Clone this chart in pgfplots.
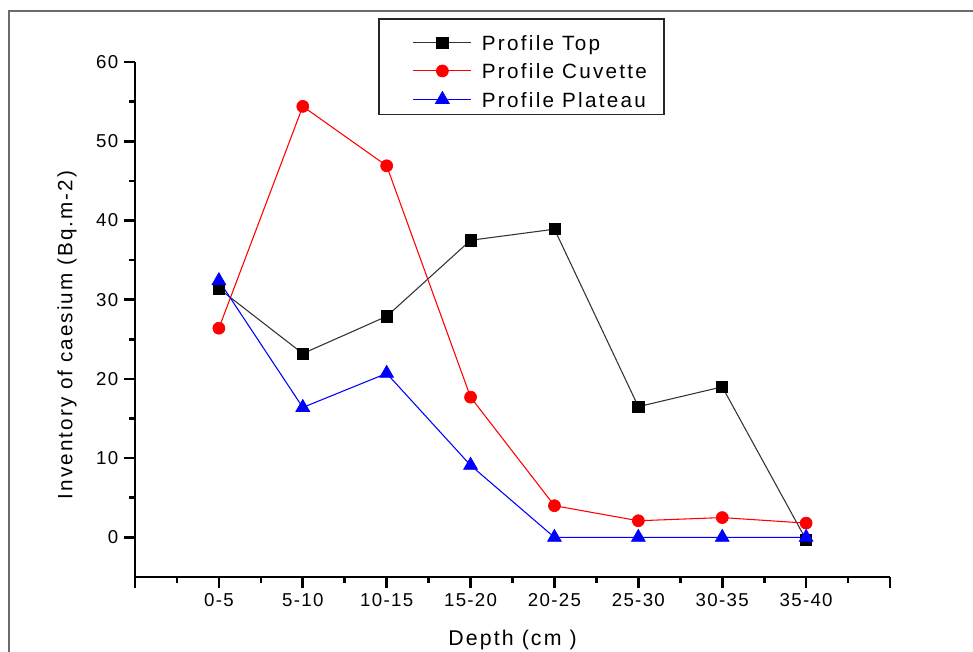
\documentclass[border=0pt]{standalone}
\usepackage{pgfplots}
\pgfplotsset{compat=1.18}
\usepackage{fontspec}
\setmainfont{Liberation Sans}
\newfontfamily\tickfont[LetterSpace=7]{Liberation Sans}
\newfontfamily\legfont[LetterSpace=11]{Liberation Sans}
\newfontfamily\labfont[LetterSpace=10]{Liberation Sans}
\begin{document}
\begin{tikzpicture}
\useasboundingbox (0,0) rectangle (729.75pt,488.25pt);
\fill[white] (0,0) rectangle (729.75pt,488.25pt);
\draw[line width=2.2pt, color=black!58] (6.75pt,-5pt) -- (6.75pt,480pt) -- (740pt,480pt);
\begin{axis}[
  at={(101.25pt,55.5pt)}, anchor=south west,
  scale only axis, width=566.25pt, height=386.25pt,
  xmin=-1, xmax=8, ymin=-5, ymax=60,
  axis x line*=bottom, axis y line*=left,
  axis line style={line width=2pt, -},
  xtick={-1,0,...,8},
  xticklabels={,0-5,5-10,10-15,15-20,20-25,25-30,30-35,35-40,},
  ytick={0,10,...,60},
  minor x tick num=1, minor y tick num=1,
  tick align=outside,
  major tick length=8pt, minor tick length=4.5pt,
  major tick style={line width=2pt, black},
  minor tick style={line width=2pt, black},
  /pgf/number format/assume math mode=true,
  tick label style={font=\tickfont\fontsize{14}{16}\selectfont},
  xticklabel style={yshift=-1pt},
  yticklabel style={xshift=-1pt},
  xlabel={Depth (cm )},
  ylabel={Inventory of caesium (Bq.m-2)},
  xlabel style={font=\labfont\fontsize{16}{19}\selectfont, at={(axis description cs:0.5,-0.122)}, anchor=center},
  ylabel style={font=\labfont\fontsize{15.5}{18}\selectfont, at={(axis description cs:-0.09,0.47)}, anchor=center},
  legend style={at={(axis description cs:0.322,1.085)}, anchor=north west,
    draw=black!85, line width=1.1pt, fill=white,
    font=\legfont\fontsize{15.5}{18}\selectfont,
    inner xsep=12.75pt, inner ysep=3.75pt, column sep=7.5pt, row sep=-0.05pt,
    nodes={inner sep=0pt, text height=13.5pt, text depth=1.5pt}},
  legend cell align=left,
  legend image code/.code={\path (0pt,13.5pt) (0pt,-7pt);
    \draw[mark repeat=2,mark phase=2] plot coordinates {(12.75pt,0pt) (34.5pt,0pt) (56.25pt,0pt)};},
  clip=false,
]
\addplot[color=black!80, line width=0.8pt, mark=square*, mark size=4.2pt,
  mark options={fill=black, draw=black, solid, line width=0.5pt}]
  coordinates {(0,31.4) (1,23.2) (2,27.9) (3,37.5) (4,38.9) (5,16.5) (6,19.0) (7,-0.3)};
\addlegendentry{Profile Top}
\addplot[color=red, line width=0.8pt, mark=*, mark size=4.5pt,
  mark options={fill=red, draw=red, solid, line width=0.5pt}]
  coordinates {(0,26.4) (1,54.4) (2,46.9) (3,17.7) (4,4.0) (5,2.1) (6,2.5) (7,1.8)};
\addlegendentry{Profile Cuvette}
\addplot[color=blue, line width=0.8pt, mark=triangle*, mark size=6pt,
  mark options={fill=blue, draw=blue, solid, line width=0.5pt}]
  coordinates {(0,32.4) (1,16.4) (2,20.7) (3,9.1) (4,0) (5,0) (6,0) (7,0)};
\addlegendentry{Profile Plateau}
\end{axis}
\end{tikzpicture}
\end{document}
